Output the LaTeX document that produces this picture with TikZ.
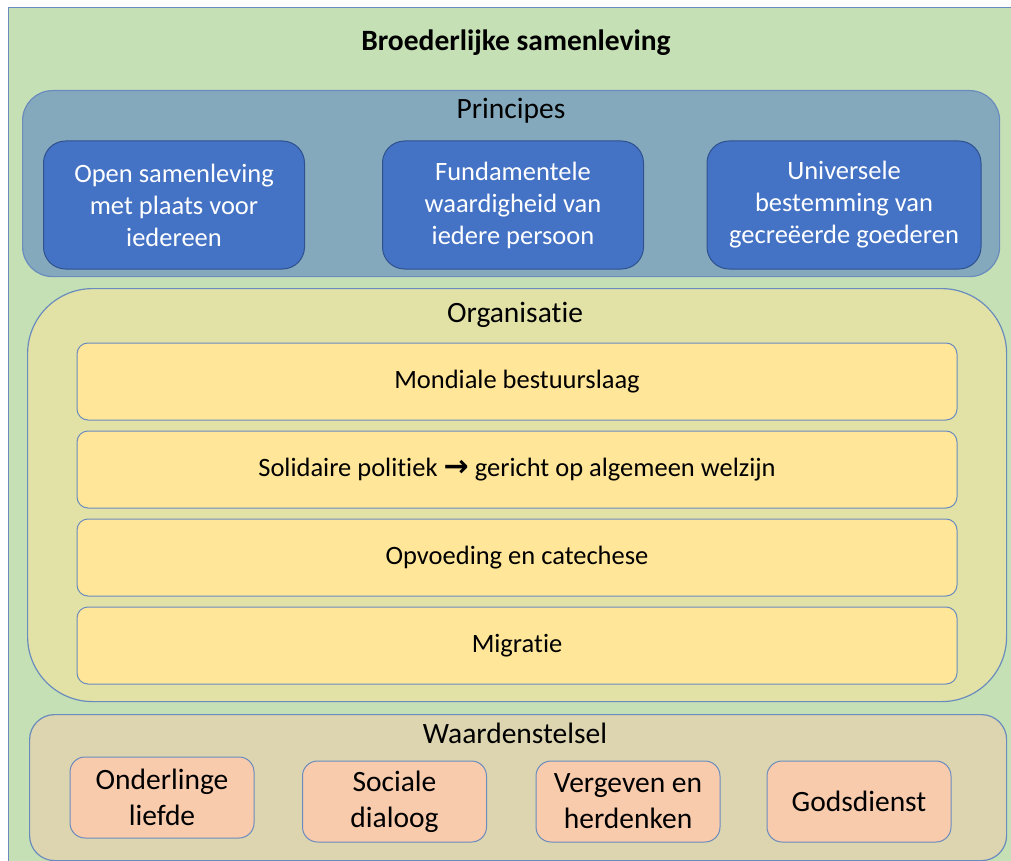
\documentclass[tikz,border=0pt]{standalone}
\usepackage{fontspec}
\setmainfont[Ligatures={CommonOff}]{Carlito}
\newfontfamily\arrowfont{DejaVu Sans}
\usepackage{xcolor}
\definecolor{outergreen}{HTML}{C5E0B4}
\definecolor{edgeblue}{HTML}{6A8BBE}
\definecolor{princfill}{HTML}{85A9BC}
\definecolor{blue}{HTML}{4472C4}
\definecolor{darkblue}{HTML}{2F528F}
\definecolor{orgfill}{HTML}{E2E2A7}
\definecolor{yellow}{HTML}{FFE699}
\definecolor{tan}{HTML}{DDD5B0}
\definecolor{salmon}{HTML}{F8CBAD}
\usepackage{tikz}
\usetikzlibrary{shapes, arrows, positioning, calc}

\begin{document}
\begin{tikzpicture}[x=1pt, y=-1pt, node distance=10pt, inner sep=0pt]
        % Define block styles
        \tikzstyle{group} = [rectangle, draw=edgeblue, line width=1.2pt, anchor=north west]
        \tikzstyle{label} = [font=\fontsize{29.5}{34}\selectfont]
        \tikzstyle{princ} = [rectangle, draw=darkblue, line width=1pt, rounded corners=22pt, fill=blue, text=white, minimum height=128pt, align=center, font=\fontsize{26.5}{32}\selectfont]
        \tikzstyle{bar} = [rectangle, draw=edgeblue, line width=1pt, rounded corners=11pt, fill=yellow, minimum width=880pt, minimum height=77pt, font=\fontsize{26.5}{30}\selectfont]
        \tikzstyle{value} = [rectangle, draw=edgeblue, line width=1pt, rounded corners=15pt, fill=salmon, minimum width=184pt, minimum height=81pt, align=center, font=\fontsize{29.5}{36}\selectfont]

        \useasboundingbox (0,0) rectangle (1011,861);

        % Containers
        \node [group, fill=outergreen, minimum width=1012pt, minimum height=863pt] (frame) at (8,7) {};
        \node [font=\bfseries\fontsize{29.5}{34}\selectfont] (title) at (516,43) {Broederlijke samenleving};

        \node [group, fill=princfill, rounded corners=30pt, minimum width=977pt, minimum height=186pt] (principes) at (22,90) {};
        \node [label] (princlabel) at (511,111) {Principes};

        \node [group, fill=orgfill, rounded corners=65pt, minimum width=979pt, minimum height=413pt] (organisatie) at (27,288) {};
        \node [label] (orglabel) at (515,315) {Organisatie};

        \node [group, fill=tan, rounded corners=25pt, minimum width=977pt, minimum height=146pt] (waarden) at (29,714) {};
        \node [label] (waardenlabel) at (515,733) {Waardenstelsel};

        % Principes
        \node [princ, minimum width=261pt] (open) at (174,205) {Open samenleving\\ met plaats voor\\ iedereen};
        \node [princ, minimum width=261pt] (waardigheid) at (513,205) {Fundamentele\\ waardigheid van\\ iedere persoon};
        \node [princ, minimum width=274pt] (bestemming) at (844,205) {Universele\\ bestemming van\\ gecreëerde goederen};

        % Organisatie
        \node [bar] (bestuur) at (517,381.5) {Mondiale bestuurslaag};
        \node [bar, below=of bestuur] (politiek) {Solidaire politiek {\arrowfont\bfseries\fontsize{30}{30}\selectfont →} gericht op algemeen welzijn};
        \node [bar, below=of politiek] (opvoeding) {Opvoeding en catechese};
        \node [bar, below=of opvoeding] (migratie) {Migratie};

        % Waardenstelsel
        \node [value] (liefde) at (162,797.5) {Onderlinge\\ liefde};
        \node [value] (dialoog) at (394.5,801.5) {Sociale\\ dialoog};
        \node [value] (vergeven) at (628,801.5) {Vergeven en\\ herdenken};
        \node [value] (godsdienst) at (859,801.5) {Godsdienst};

    \end{tikzpicture}
\end{document}
